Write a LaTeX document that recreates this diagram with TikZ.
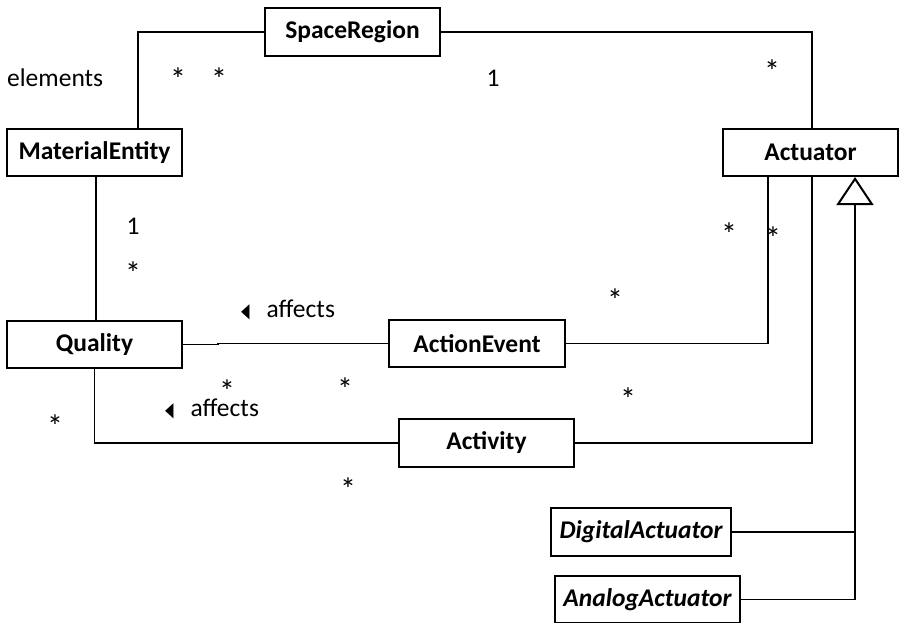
\documentclass[tikz,border=0pt]{standalone}
\usepackage{fontspec}
\usepackage{graphicx}
\setmainfont{Carlito}
\newfontfamily\symfont{DejaVu Sans}
\usetikzlibrary{arrows.meta}
\newcommand{\seta}{\scalebox{0.55}[1]{\fontsize{20}{22}\symfont ◀}}
\tikzset{
  classe/.style={draw, line width=2pt, inner sep=0pt, minimum width=175pt, minimum height=47pt, font=\bfseries},
  abstrata/.style={classe, font=\bfseries\itshape},
  assoc/.style={line width=1.3pt},
  rotulo/.style={inner sep=0pt, anchor=base},
  mult/.style={rotulo, text depth=-8pt, font=\fontsize{32}{36}\selectfont},
}
\begin{document}
\begin{tikzpicture}[x=1pt, y=-1pt]
		\fontsize{25.5}{30}\selectfont
		\useasboundingbox (0,0) rectangle (899,622);
		% Classes
		\node[classe, minimum height=48pt] (space) at (352.5,32) {SpaceRegion};
		\node[classe] (material) at (94.5,152.5) {MaterialEntity};
		\node[classe] (actuator) at (810.5,152.5) {Actuator};
		\node[classe] (quality) at (94.5,344.5) {Quality};
		\node[classe, minimum width=176pt] (action) at (477,343.5) {ActionEvent};
		\node[classe, minimum height=48pt] (activity) at (486.5,443) {Activity};
		\node[abstrata, minimum width=180pt, minimum height=48pt] (digital) at (641,532) {DigitalActuator};
		\node[abstrata, minimum width=185pt] (analog) at (647.5,599.5) {AnalogActuator};
		% Associacoes
		\draw[assoc] (space.west) -| ([xshift=43.5pt]material.north);
		\draw[assoc] (space.east) -| ([xshift=1.5pt]actuator.north);
		\draw[assoc] ([xshift=1.5pt]material.south) -- ([xshift=1.5pt]quality.north);
		\draw[assoc] (quality.east) -- ++(35,0) |- (action.west);
		\draw[assoc] (quality.south) |- (activity.west);
		\draw[assoc] (action.east) -| ([xshift=-42.5pt]actuator.south);
		\draw[assoc] (activity.east) -| ([xshift=1.5pt]actuator.south);
		% Generalizacao
		\coordinate (heranca) at ([xshift=44.5pt]actuator.south);
		\draw[assoc, -{Triangle[open, length=28pt, width=37pt, line width=2pt]}] (analog.east) -| (heranca);
		\draw[assoc] (digital.east) -- (digital.east -| heranca);
		% Rotulos
		\node[rotulo, anchor=base west] (elem) at (7,86) {elements};
		\node[rotulo, anchor=base west] (afeta1) at (241,317) {\seta\hspace{17pt}affects};
		\node[rotulo, anchor=base west] (afeta2) at (165,416) {\seta\hspace{17pt}affects};
		% Multiplicidades
		\node[rotulo] (um1) at (493,86) {1};
		\node[rotulo] (um2) at (133,234) {1};
		\node[mult] (m1) at (178,90) {*};
		\node[mult] (m2) at (219,90) {*};
		\node[mult] (m3) at (772,82) {*};
		\node[mult] (m4) at (133,284) {*};
		\node[mult] (m5) at (227,402) {*};
		\node[mult] (m6) at (345,400) {*};
		\node[mult] (m7) at (55,437) {*};
		\node[mult] (m8) at (348,500) {*};
		\node[mult] (m9) at (729,245) {*};
		\node[mult] (m10) at (773,249) {*};
		\node[mult] (m11) at (615,311) {*};
		\node[mult] (m12) at (628,410) {*};
	\end{tikzpicture}
\end{document}
